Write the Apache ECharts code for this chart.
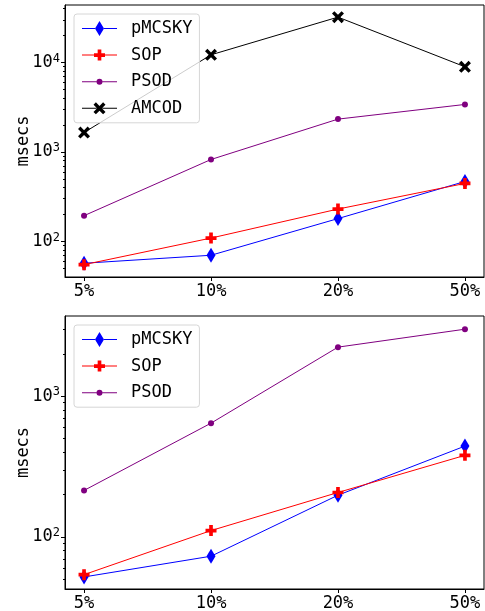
<!DOCTYPE html>
<html>
<head>
<meta charset="utf-8">
<script src="https://cdn.jsdelivr.net/npm/echarts@6/dist/echarts.min.js"></script>
<style>
  html, body { margin: 0; padding: 0; background: #fff; }
  #chart { width: 485px; height: 611px; }
</style>
</head>
<body>
<div id="chart"></div>
<script>
var categories = ['5%', '10%', '20%', '50%']

// top panel
var pmcskyTop = [57, 70, 180, 468]
var sopTop = [55, 109, 230, 445]
var psodTop = [194, 824, 2330, 3400]
var amcodTop = [1650, 12200, 32200, 8960]

// bottom panel
var pmcskyBottom = [52, 73, 198, 442]
var sopBottom = [54, 111, 207, 380]
var psodBottom = [214, 643, 2230, 2990]

var majorTop = [100, 1000, 10000]
var minorTop = [50, 60, 70, 80, 90, 200, 300, 400, 500, 600, 700, 800, 900,
  2000, 3000, 4000, 5000, 6000, 7000, 8000, 9000, 20000, 30000, 40000]
var majorBottom = [100, 1000]
var minorBottom = [50, 60, 70, 80, 90, 200, 300, 400, 500, 600, 700, 800, 900, 2000, 3000]

var FONT = 'DejaVu Sans Mono'
var PLUS = 'path://M1,0H2V1H3V2H2V3H1V2H0V1H1Z'
var CROSS = 'path://M0.6,0L1.5,0.9L2.4,0L3,0.6L2.1,1.5L3,2.4L2.4,3L1.5,2.1L0.6,3L0,2.4L0.9,1.5L0,0.6Z'

// legend icons: line + marker drawn in one 35x15 box
var BOX = 'M0,0M35,15'
var ICONS = {
  pMCSKY: 'path://' + BOX + 'M0,7H13V8H0ZM22,7H35V8H22ZM13,7.5L17.5,0L22,7.5L17.5,15Z',
  SOP: 'path://' + BOX + 'M0,7H12V8H0ZM23,7H35V8H23Z' +
    'M15.67,2H19.33V5.67H23V9.33H19.33V13H15.67V9.33H12V5.67H15.67Z',
  PSOD: 'path://' + BOX + 'M0,7H14.5V8H0ZM20.5,7H35V8H20.5Z' +
    'M14.5,7.5A3,3 0 1,0 20.5,7.5A3,3 0 1,0 14.5,7.5Z',
  AMCOD: 'path://' + BOX + 'M0,7H14.6V8H0ZM20.4,7H35V8H20.4Z' +
    'M13.9,1.5L17.5,5.1L21.1,1.5L23.5,3.9L19.9,7.5L23.5,11.1L21.1,13.5L17.5,9.9L13.9,13.5L11.5,11.1L15.1,7.5L11.5,3.9Z'
}

function pts(arr) {
  return arr.map(function (v, i) { return [i, v] })
}

function line(name, data, idx, color, symbol, size) {
  return {
    name: name,
    type: 'line',
    xAxisIndex: idx,
    yAxisIndex: idx * 2,
    data: pts(data),
    symbol: symbol,
    symbolSize: size,
    showAllSymbol: true,
    animation: false,
    itemStyle: { color: color, borderWidth: 0 },
    lineStyle: { color: color, width: 1 }
  }
}

function xAxis(idx) {
  return {
    type: 'value',
    gridIndex: idx,
    min: -0.15,
    max: 3.15,
    splitLine: { show: false },
    axisLine: { show: true, onZero: false, lineStyle: { color: '#000', width: 1 } },
    axisTick: { show: true, length: 4, customValues: [0, 1, 2, 3], lineStyle: { color: '#000' } },
    axisLabel: {
      customValues: [0, 1, 2, 3],
      margin: 6,
      color: '#000',
      fontFamily: FONT,
      fontSize: 17,
      formatter: function (v) { return categories[Math.round(v)] }
    }
  }
}

function yAxes(idx, min, max, major, minor) {
  return [{
    type: 'log',
    logBase: 10,
    gridIndex: idx,
    min: min,
    max: max,
    name: 'msecs',
    nameLocation: 'middle',
    nameGap: 33,
    nameRotate: 90,
    nameMoveOverlap: false,
    nameTextStyle: { color: '#000', fontFamily: FONT, fontSize: 17 },
    splitLine: { show: false },
    axisLine: { show: true, onZero: false, lineStyle: { color: '#000', width: 1 } },
    axisTick: { show: true, length: 4, customValues: major, lineStyle: { color: '#000' } },
    axisLabel: {
      customValues: major,
      margin: 5,
      color: '#000',
      formatter: function (v) {
        return '{b|10}{s|' + Math.round(Math.log10(v)) + '}'
      },
      rich: {
        b: { fontFamily: FONT, fontSize: 17, color: '#000', lineHeight: 20 },
        s: { fontFamily: FONT, fontSize: 12, color: '#000', verticalAlign: 'top', lineHeight: 20, padding: [0, 0, 8, 0] }
      }
    }
  }, {
    type: 'log',
    logBase: 10,
    gridIndex: idx,
    min: min,
    max: max,
    position: 'left',
    splitLine: { show: false },
    axisLine: { show: false, onZero: false },
    axisTick: { show: true, length: 2, customValues: minor, lineStyle: { color: '#000' } },
    axisLabel: { show: false }
  }]
}

function legend(top, names) {
  return {
    orient: 'vertical',
    left: 74,
    top: top,
    data: names.map(function (n) { return { name: n, icon: ICONS[n] } }),
    itemWidth: 35,
    itemHeight: 15,
    itemGap: 9.6,
    padding: [6, 7, 6, 8],
    backgroundColor: 'rgba(255,255,255,0.8)',
    borderColor: '#d6d6d6',
    borderWidth: 1,
    borderRadius: 3,
    selectedMode: false,
    itemStyle: { borderWidth: 0 },
    textStyle: { color: '#000', fontFamily: FONT, fontSize: 17, padding: [0, 0, 0, 9] }
  }
}

var chart = echarts.init(document.getElementById('chart'))
chart.setOption({
  backgroundColor: '#fff',
  animation: false,
  grid: [
    { left: 65, top: 5, width: 419, height: 272, show: true, borderColor: '#000', borderWidth: 1, outerBoundsMode: 'none' },
    { left: 65, top: 316, width: 419, height: 273, show: true, borderColor: '#000', borderWidth: 1, outerBoundsMode: 'none' }
  ],
  legend: [
    legend(14, ['pMCSKY', 'SOP', 'PSOD', 'AMCOD']),
    legend(325, ['pMCSKY', 'SOP', 'PSOD'])
  ],
  xAxis: [xAxis(0), xAxis(1)],
  yAxis: yAxes(0, 40, 44000, majorTop, minorTop).concat(yAxes(1, 42.7, 3710, majorBottom, minorBottom)),
  series: [
    line('pMCSKY', pmcskyTop, 0, '#0000ff', 'diamond', [9, 15]),
    line('SOP', sopTop, 0, '#ff0000', PLUS, 11),
    line('PSOD', psodTop, 0, '#800080', 'circle', 6),
    line('AMCOD', amcodTop, 0, '#000000', CROSS, 12),
    line('pMCSKY', pmcskyBottom, 1, '#0000ff', 'diamond', [9, 15]),
    line('SOP', sopBottom, 1, '#ff0000', PLUS, 11),
    line('PSOD', psodBottom, 1, '#800080', 'circle', 6)
  ]
})
</script>
</body>
</html>
